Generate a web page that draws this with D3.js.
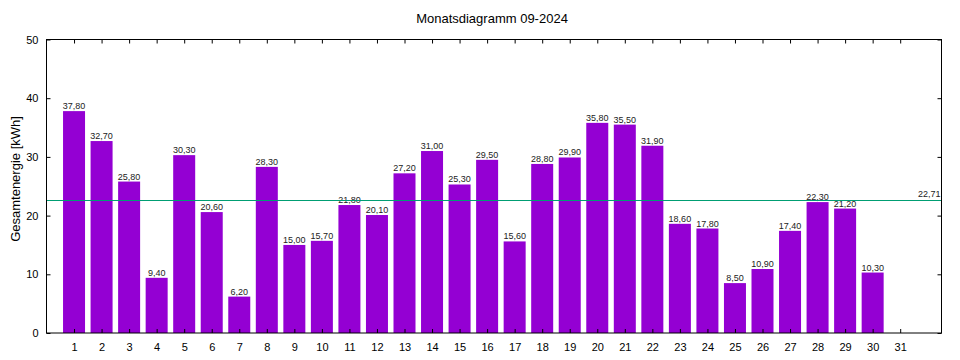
<!DOCTYPE html>
<html>
<head>
<meta charset="utf-8">
<script src="https://cdn.jsdelivr.net/npm/d3@7"></script>
<style>
  body { margin: 0; background: #fff; }
  svg text { font-family: "Liberation Sans", Arial, sans-serif; fill: #000; }
</style>
</head>
<body>
<svg id="chart" width="960" height="360"></svg>
<script>
// Tageswerte September 2024
var days = [1,2,3,4,5,6,7,8,9,10,11,12,13,14,15,16,17,18,19,20,21,22,23,24,25,26,27,28,29,30,31];
var energy = [37.8,32.7,25.8,9.4,30.3,20.6,6.2,28.3,15.0,15.7,21.8,20.1,27.2,31.0,25.3,29.5,15.6,28.8,29.9,35.8,35.5,31.9,18.6,17.8,8.5,10.9,17.4,22.3,21.2,10.3,null];
var average = 22.71;
var yTicks = [0,10,20,30,40,50];

var margin = {left: 46.5, top: 39.5, right: 18.5, bottom: 27};
var W = 960, H = 360;
var svg = d3.select("#chart");

var x = d3.scaleLinear().domain([0, 32.5]).range([margin.left, W - margin.right]);
var y = d3.scaleLinear().domain([0, 50]).range([H - margin.bottom, margin.top]);

var fmt = function (v) { return v.toFixed(2).replace(".", ","); };
var barW = 22;

var data = days.map(function (d, i) { return {day: d, val: energy[i]}; })
	.filter(function (d) { return d.val != null; });

// Balken
svg.selectAll("rect.bar")
	.data(data)
	.join("rect")
	.attr("class", "bar")
	.attr("x", function (d) { return x(d.day) - barW / 2; })
	.attr("width", barW)
	.attr("y", function (d) { return y(d.val); })
	.attr("height", function (d) { return y(0) - y(d.val); })
	.attr("fill", "#9400d3");

// Werte über den Balken
svg.selectAll("text.val")
	.data(data)
	.join("text")
	.attr("class", "val")
	.attr("x", function (d) { return x(d.day); })
	.attr("y", function (d) { return y(d.val) - 2; })
	.attr("text-anchor", "middle")
	.style("font-size", "9px")
	.style("fill", "#222")
	.text(function (d) { return fmt(d.val); });

// Durchschnittslinie
svg.append("line")
	.attr("x1", x.range()[0]).attr("x2", x.range()[1])
	.attr("y1", Math.round(y(average)) + 0.5).attr("y2", Math.round(y(average)) + 0.5)
	.attr("stroke", "#009e73").attr("stroke-width", 1);
svg.append("text")
	.attr("x", x.range()[1] - 1)
	.attr("y", y(average) - 3)
	.attr("text-anchor", "end")
	.style("font-size", "9px")
	.style("fill", "#222")
	.text(fmt(average));

// Achsen (Ticks innen, gespiegelt)
var tl = 4;
svg.append("g").attr("transform", "translate(" + x.range()[0] + ",0)")
	.call(d3.axisLeft(y).tickValues(yTicks).tickSizeInner(-tl).tickSizeOuter(0).tickPadding(8))
	.call(function (g) { g.select(".domain").remove(); });
svg.append("g").attr("transform", "translate(" + x.range()[1] + ",0)")
	.call(d3.axisRight(y).tickValues(yTicks).tickSizeInner(-tl).tickSizeOuter(0).tickFormat(""))
	.call(function (g) { g.select(".domain").remove(); });
svg.append("g").attr("transform", "translate(0," + y.range()[0] + ")")
	.call(d3.axisBottom(x).tickValues(days).tickSizeInner(-tl).tickSizeOuter(0).tickPadding(10).tickFormat(d3.format("d")))
	.call(function (g) { g.select(".domain").remove(); });
svg.append("g").attr("transform", "translate(0," + y.range()[1] + ")")
	.call(d3.axisTop(x).tickValues(days).tickSizeInner(-tl).tickSizeOuter(0).tickFormat(""))
	.call(function (g) { g.select(".domain").remove(); });

svg.selectAll(".tick text").style("font-size", "11px").style("font-family", "Liberation Sans, Arial, sans-serif").attr("fill", "#000");
svg.selectAll(".tick line").attr("stroke", "#000");

// Rahmen
svg.append("rect")
	.attr("x", x.range()[0]).attr("y", y.range()[1])
	.attr("width", x.range()[1] - x.range()[0])
	.attr("height", y.range()[0] - y.range()[1])
	.attr("fill", "none").attr("stroke", "#000");

// Titel und Achsenbeschriftung
svg.append("text")
	.attr("x", 492).attr("y", 23)
	.attr("text-anchor", "middle")
	.style("font-size", "13px")
	.text("Monatsdiagramm 09-2024");
svg.append("text")
	.attr("transform", "translate(20,179) rotate(-90)")
	.attr("text-anchor", "middle")
	.style("font-size", "13px")
	.text("Gesamtenergie [kWh]");
</script>
</body>
</html>
